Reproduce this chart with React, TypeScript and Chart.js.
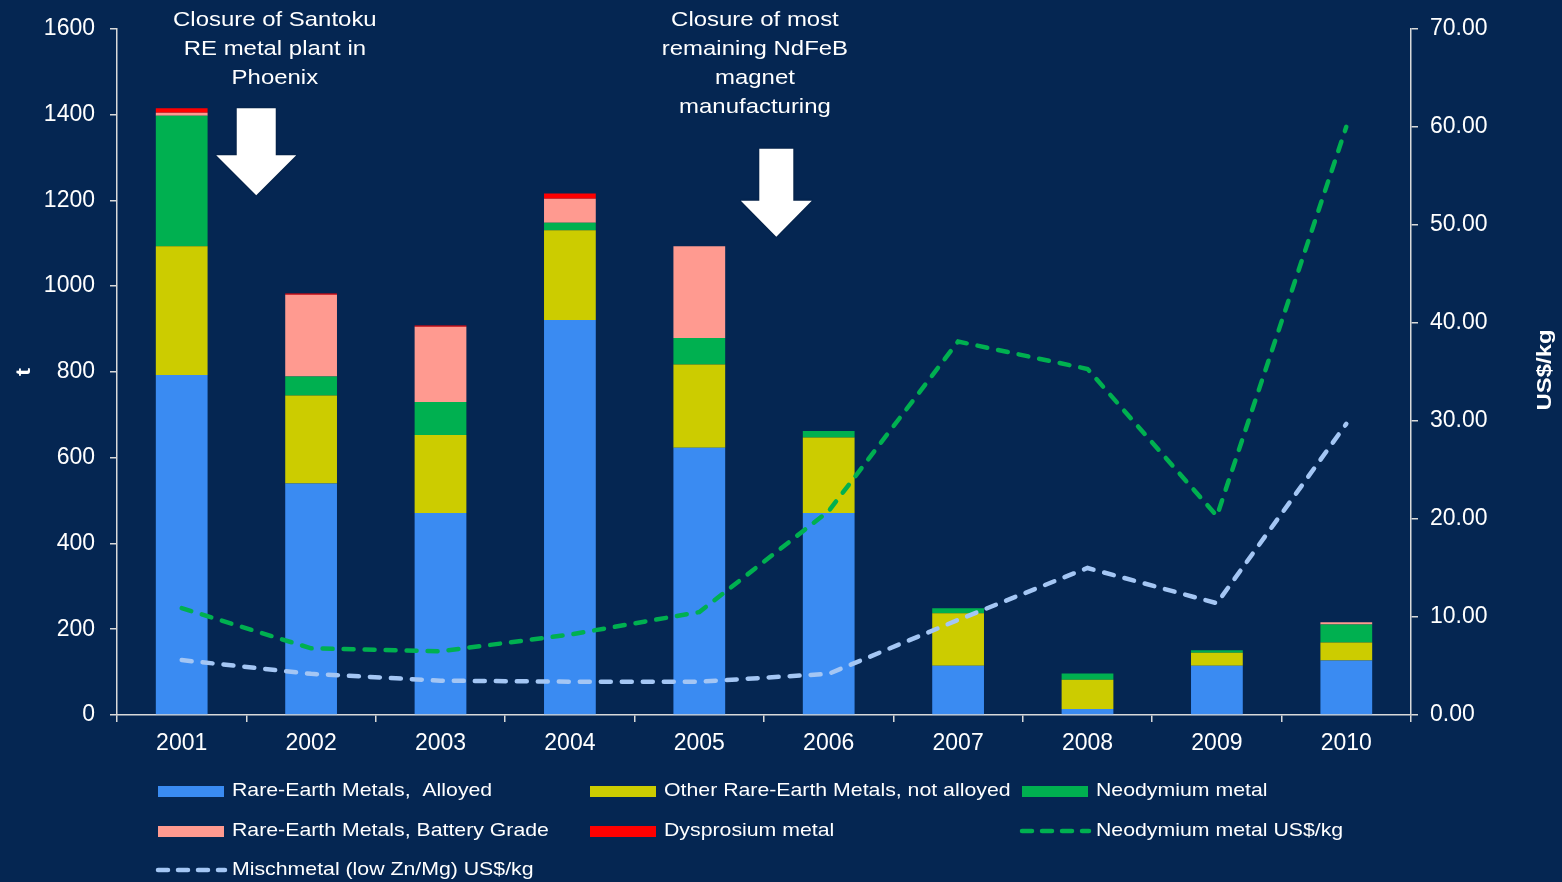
import React, { useEffect, useRef } from "react";
import { Chart, registerables } from "chart.js";

Chart.register(...registerables);

// ---------- data ----------
const years = ["2001", "2002", "2003", "2004", "2005", "2006", "2007", "2008", "2009", "2010"];
const alloyed = [793, 540, 471, 921, 623, 471, 115, 14, 115, 127];
const otherNotAlloyed = [300, 205, 182, 209, 194, 176, 122, 68, 30, 42];
const neodymiumMetal = [304, 44, 77, 18, 62, 15, 12, 15, 6, 42];
const batteryGrade = [7, 191, 175, 56, 214, 0, 0, 0, 0, 5];
const dysprosium = [11, 3, 3, 12, 0, 0, 0, 0, 0, 0];
const neodymiumPrice = [10.9, 6.8, 6.5, 8.2, 10.5, 20.8, 38.1, 35.3, 20.3, 60.0];
const mischmetalPrice = [5.6, 4.2, 3.5, 3.4, 3.4, 4.2, 9.7, 15.0, 11.4, 29.7];

const leftAxis = { min: 0, max: 1600, step: 200, title: "t" };
const rightAxis = { min: 0, max: 70, step: 10, title: "US$/kg" };

const seriesLabels = [
  "Rare-Earth Metals,  Alloyed",
  "Other Rare-Earth Metals, not alloyed",
  "Neodymium metal",
  "Rare-Earth Metals, Battery Grade",
  "Dysprosium metal",
  "Neodymium metal US$/kg",
  "Mischmetal (low Zn/Mg) US$/kg",
];

// annotations: anchor in (category index, t value)
const note1Lines = ["Closure of Santoku", "RE metal plant in", "Phoenix"];
const note1Anchor = { idx: 0.72, t: 1619 };
const note2Lines = ["Closure of most", "remaining NdFeB", "magnet", "manufacturing"];
const note2Anchor = { idx: 4.43, t: 1619 };
const arrow1Tip = { idx: 0.576, t: 1212 };
const arrow2Tip = { idx: 4.595, t: 1115 };

// ---------- styles ----------
const BG = "#052652";
const FONT = "'Liberation Sans', Arial, sans-serif";
const AXIS = "#d9d9d9";
const C_BLUE = "#3a8bf2";
const C_YELLOW = "#cccc00";
const C_GREEN = "#00b050";
const C_PINK = "#ff9a90";
const C_RED = "#ff0000";
const C_LIGHTBLUE = "#a4c6f4";

function drawText(
  ctx: CanvasRenderingContext2D,
  text: string,
  x: number,
  y: number,
  font: string,
  sx: number,
  align: CanvasTextAlign,
  rot = 0
) {
  ctx.save();
  ctx.translate(x, y);
  ctx.rotate(rot);
  ctx.scale(sx, 1);
  ctx.font = font;
  ctx.fillStyle = "#ffffff";
  ctx.textAlign = align;
  ctx.textBaseline = "middle";
  ctx.fillText(text, 0, 0);
  ctx.restore();
}

function drawArrow(
  ctx: CanvasRenderingContext2D,
  tipX: number,
  tipY: number,
  total: number,
  head: number,
  shaftW: number,
  headW: number
) {
  ctx.save();
  ctx.beginPath();
  ctx.moveTo(tipX - shaftW / 2, tipY - total);
  ctx.lineTo(tipX + shaftW / 2, tipY - total);
  ctx.lineTo(tipX + shaftW / 2, tipY - head);
  ctx.lineTo(tipX + headW / 2, tipY - head);
  ctx.lineTo(tipX, tipY);
  ctx.lineTo(tipX - headW / 2, tipY - head);
  ctx.lineTo(tipX - shaftW / 2, tipY - head);
  ctx.closePath();
  ctx.fillStyle = "#ffffff";
  ctx.shadowColor = "rgba(0,0,0,0.35)";
  ctx.shadowBlur = 2;
  ctx.fill();
  ctx.restore();
}

const overlayPlugin = {
  id: "overlay",
  afterDraw(chart: any) {
    const ctx: CanvasRenderingContext2D = chart.ctx;
    const xs = chart.scales.x;
    const ys = chart.scales.y;
    const x0 = xs.getPixelForValue(0);
    const step = xs.getPixelForValue(1) - x0;
    const px = (i: number) => x0 + i * step;
    const py = (v: number) => ys.getPixelForValue(v);
    const area = chart.chartArea;

    // axis titles
    const titleFont = `bold 21px ${FONT}`;
    drawText(ctx, leftAxis.title, 24, (area.top + area.bottom) / 2, titleFont, 1.14, "center", -Math.PI / 2);
    drawText(ctx, rightAxis.title, 1545, (area.top + area.bottom) / 2 - 2, titleFont, 1.14, "center", -Math.PI / 2);

    // annotations
    const noteFont = `21px ${FONT}`;
    const lh = 29;
    note1Lines.forEach((l, i) => drawText(ctx, l, px(note1Anchor.idx), py(note1Anchor.t) + i * lh, noteFont, 1.14, "center"));
    note2Lines.forEach((l, i) => drawText(ctx, l, px(note2Anchor.idx), py(note2Anchor.t) + i * lh, noteFont, 1.14, "center"));
    drawArrow(ctx, px(arrow1Tip.idx), py(arrow1Tip.t), 87, 40, 39, 80);
    drawArrow(ctx, px(arrow2Tip.idx), py(arrow2Tip.t), 88, 36, 34, 71);

    // legend (3-column grid)
    const colX = [158, 590, 1022];
    const rowY = [791, 831, 870];
    const legFont = `19px ${FONT}`;
    chart.data.datasets.forEach((ds: any, i: number) => {
      const cx = colX[i % 3];
      const cy = rowY[Math.floor(i / 3)];
      ctx.save();
      if (ds.type === "line") {
        ctx.strokeStyle = ds.borderColor;
        ctx.lineWidth = 4.5;
        ctx.lineCap = "round";
        ctx.setLineDash([10, 10]);
        ctx.beginPath();
        ctx.moveTo(cx, cy);
        ctx.lineTo(cx + 67, cy);
        ctx.stroke();
      } else {
        ctx.fillStyle = ds.backgroundColor;
        ctx.fillRect(cx, cy - 5, 66, 11);
      }
      ctx.restore();
      drawText(ctx, ds.label, cx + 74, cy, legFont, 1.12, "left");
    });
  },
};

export default function App() {
  const ref = useRef<HTMLCanvasElement | null>(null);

  useEffect(() => {
    if (!ref.current) return;
    const tickFont = { family: FONT, size: 23 };
    const barCommon = { type: "bar" as const, barPercentage: 0.4, categoryPercentage: 1.0, order: 1, borderWidth: 0 };
    const lineCommon = {
      type: "line" as const,
      yAxisID: "y1",
      borderWidth: 4.5,
      borderDash: [10, 11],
      borderCapStyle: "round" as const,
      pointRadius: 0,
      fill: false,
      tension: 0,
      order: 0,
    };
    const chart = new Chart(ref.current, {
      type: "bar",
      data: {
        labels: years,
        datasets: [
          { ...barCommon, label: seriesLabels[0], data: alloyed, backgroundColor: C_BLUE },
          { ...barCommon, label: seriesLabels[1], data: otherNotAlloyed, backgroundColor: C_YELLOW },
          { ...barCommon, label: seriesLabels[2], data: neodymiumMetal, backgroundColor: C_GREEN },
          { ...barCommon, label: seriesLabels[3], data: batteryGrade, backgroundColor: C_PINK },
          { ...barCommon, label: seriesLabels[4], data: dysprosium, backgroundColor: C_RED },
          { ...lineCommon, label: seriesLabels[5], data: neodymiumPrice, borderColor: C_GREEN },
          { ...lineCommon, label: seriesLabels[6], data: mischmetalPrice, borderColor: C_LIGHTBLUE },
        ] as any,
      },
      plugins: [overlayPlugin],
      options: {
        responsive: false,
        animation: false,
        layout: { padding: { top: 27, bottom: 122, left: 0, right: 0 } },
        plugins: { legend: { display: false }, tooltip: { enabled: false } },
        scales: {
          x: {
            stacked: true,
            grid: { display: true, drawOnChartArea: false, color: AXIS, tickLength: 7, offset: true, lineWidth: 1.5 },
            border: { color: AXIS, width: 1.5 },
            ticks: { color: "#ffffff", font: tickFont, padding: 8, maxRotation: 0 },
            afterFit: (s: any) => {
              s.height = 45;
            },
          },
          y: {
            stacked: true,
            position: "left",
            min: leftAxis.min,
            max: leftAxis.max,
            grid: { display: true, drawOnChartArea: false, color: AXIS, tickLength: 7, lineWidth: 1.5 },
            border: { color: AXIS, width: 1.5 },
            ticks: {
              stepSize: leftAxis.step,
              color: "#ffffff",
              font: tickFont,
              padding: 15,
              callback: (v: any) => String(v),
            },
            afterFit: (s: any) => {
              s.width = 117;
            },
          },
          y1: {
            position: "right",
            min: rightAxis.min,
            max: rightAxis.max,
            grid: { display: true, drawOnChartArea: false, color: AXIS, tickLength: 7, lineWidth: 1.5 },
            border: { color: AXIS, width: 1.5 },
            ticks: {
              stepSize: rightAxis.step,
              color: "#ffffff",
              font: tickFont,
              padding: 12,
              callback: (v: any) => Number(v).toFixed(2),
            },
            afterFit: (s: any) => {
              s.width = 151;
            },
          },
        },
      } as any,
    });
    return () => chart.destroy();
  }, []);

  return (
    <div style={{ position: "absolute", left: 0, top: 0, width: 1562, height: 882, background: BG }}>
      <canvas ref={ref} width={1562} height={882} style={{ display: "block" }} />
    </div>
  );
}
